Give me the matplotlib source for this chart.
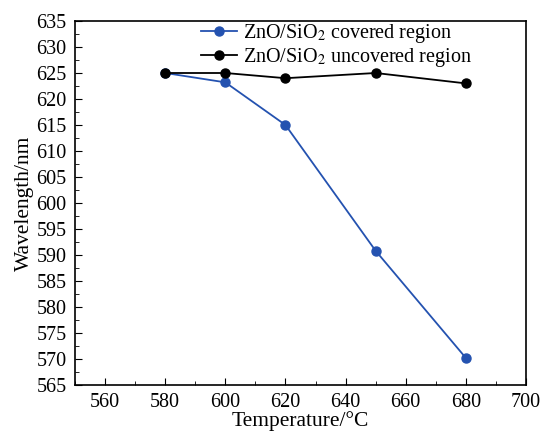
import numpy as np
import matplotlib.pyplot as plt
from matplotlib.ticker import MultipleLocator

plt.rcParams['font.family'] = ['Liberation Serif', 'DejaVu Serif']
plt.rcParams['mathtext.fontset'] = 'stix'

temperature = [580, 600, 620, 650, 680]
covered = [625.0, 623.2, 615.0, 590.8, 570.2]
uncovered = [625.0, 625.0, 624.0, 625.0, 623.0]

fig = plt.figure(figsize=(5.41, 4.33), dpi=100)
ax = fig.add_axes([75 / 541, 48 / 433, 451 / 541, 364 / 433])

ax.plot(temperature, covered, '-o', color='#2452b0', lw=1.3, ms=6.5,
        label=r'ZnO/SiO$_2$ covered region')
ax.plot(temperature, uncovered, '-o', color='black', lw=1.3, ms=6.5,
        label=r'ZnO/SiO$_2$ uncovered region')

ax.set_xlim(550, 700)
ax.set_ylim(565, 635)
ax.xaxis.set_major_locator(MultipleLocator(20))
ax.xaxis.set_minor_locator(MultipleLocator(10))
ax.yaxis.set_major_locator(MultipleLocator(5))
ax.yaxis.set_minor_locator(MultipleLocator(2.5))
ax.tick_params(which='both', direction='in', top=False, right=False, labelsize=14.5)
ax.tick_params(axis='y', which='major', length=5, pad=6)
ax.tick_params(axis='x', which='major', length=5, pad=6)
ax.tick_params(which='minor', length=3)
for s in ax.spines.values():
    s.set_linewidth(1.2)

ax.set_xlabel('Temperature/°C', fontsize=15.5, labelpad=-1)
ax.set_ylabel('Wavelength/nm', fontsize=15.5, labelpad=2)
ax.legend(loc='upper center', bbox_to_anchor=(0.58, 1.035), frameon=False,
          fontsize=14.5, handlelength=1.8, labelspacing=0.05, borderpad=0.2,
          handletextpad=0.3)

fig.savefig('out.png', dpi=100)
